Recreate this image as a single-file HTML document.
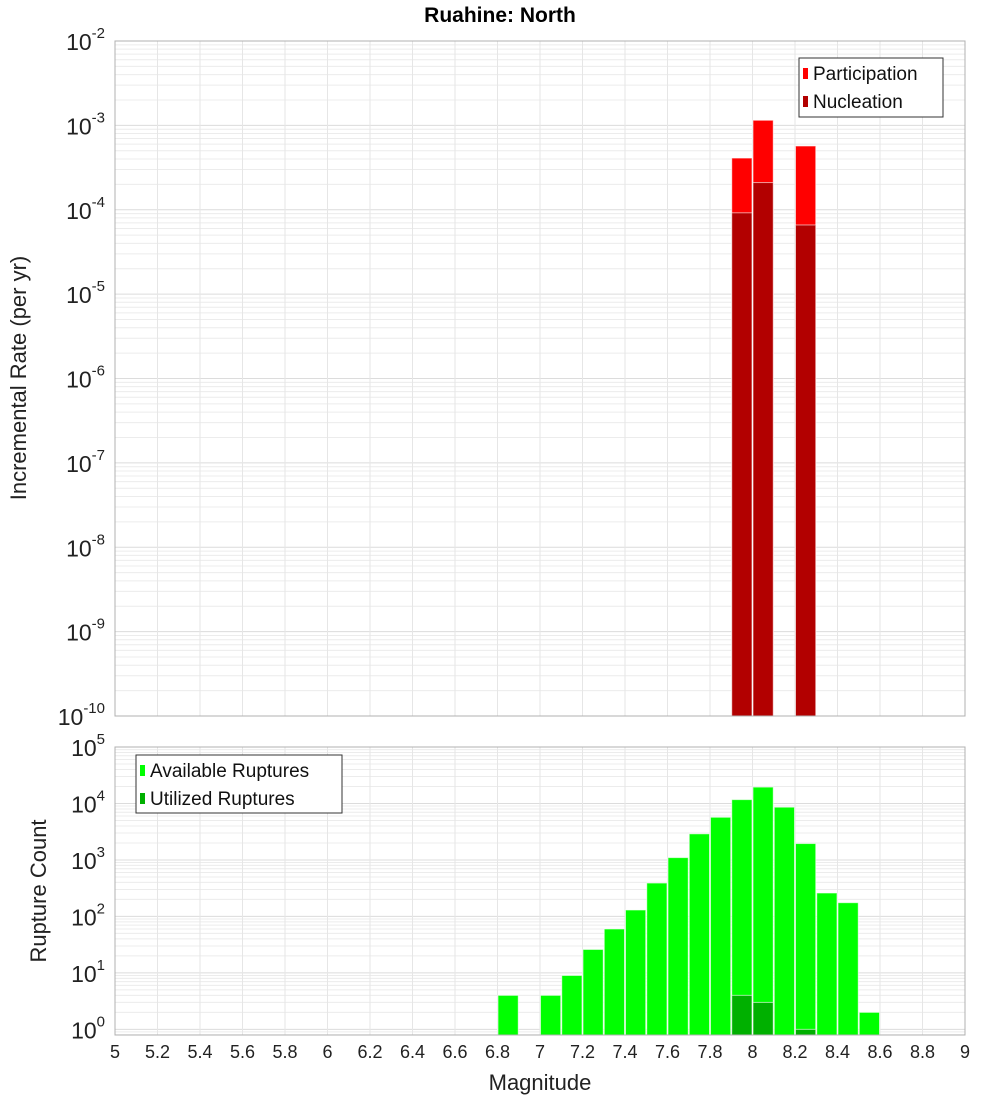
<!DOCTYPE html>
<html><head><meta charset="utf-8"><style>
body{margin:0;background:#fff;font-family:"Liberation Sans","DejaVu Sans",sans-serif}
svg{display:block}
</style></head><body>
<svg id="chart" width="1000" height="1100" xmlns="http://www.w3.org/2000/svg"></svg>
<script>
const magBins=[6.85,6.95,7.05,7.15,7.25,7.35,7.45,7.55,7.65,7.75,7.85,7.95,8.05,8.15,8.25,8.35,8.45,8.55];
const availableCounts=[4,0,4,9,26,60,130,390,1100,2900,5700,11700,19500,8600,1950,260,175,2];
const utilizedCounts=[0,0,0,0,0,0,0,0,0,0,0,4,3,0,1,0,0,0];
const rateBins=[7.95,8.05,8.25];
const participationRates=[4.1e-4,1.15e-3,5.7e-4];
const nucleationRates=[9.2e-5,2.1e-4,6.6e-5];
const xTicks=[5,5.2,5.4,5.6,5.8,6,6.2,6.4,6.6,6.8,7,7.2,7.4,7.6,7.8,8,8.2,8.4,8.6,8.8,9];
const topExps=[-2,-3,-4,-5,-6,-7,-8,-9,-10];
const botExps=[0,1,2,3,4,5];

const NS="http://www.w3.org/2000/svg";
const svg=document.getElementById('chart');
function mk(tag,attrs,parent){const e=document.createElementNS(NS,tag);for(const k in attrs)e.setAttribute(k,attrs[k]);(parent||svg).appendChild(e);return e;}
const L=115,R=965;
const x=m=>L+(m-5)/4*(R-L);
const T1=41,B1=716; const yTop=v=>T1+(-2-Math.log10(v))/8*(B1-T1);
const T2=747,B2=1035; const yBot=v=>T2+(5-Math.log10(v))/5.1*(B2-T2);

function grid(T,B,lo,hi,yf,name){
  const g=mk('g',{});
  for(let e=lo;e<hi;e++)for(let k=1;k<10;k++){const v=k*Math.pow(10,e);const yy=yf(v);if(yy<T-0.5||yy>B+0.5)continue;
    mk('line',{x1:L,x2:R,y1:yy,y2:yy,stroke:k==1?'#dcdcdc':'#ececec','stroke-width':1},g);}
  xTicks.forEach(t=>mk('line',{x1:x(t),x2:x(t),y1:T,y2:B,stroke:'#e6e6e6'},g));
}
grid(T1,B1,-10,-1,yTop,'top-grid');
grid(T2,B2,-1,6,yBot,'bottom-grid');

function bar(m,v,yf,B,fill,name){const w=(R-L)/40;const yy=yf(v);
  const r=mk('rect',{x:x(m)-w/2+0.5,y:yy,width:w-1,height:B-yy,fill:fill,stroke:'#fff','stroke-opacity':0.6,'stroke-width':1});
  }
rateBins.forEach((m,i)=>bar(m,participationRates[i],yTop,B1,'#ff0000','participation-bar'));
rateBins.forEach((m,i)=>bar(m,nucleationRates[i],yTop,B1,'#b20000','nucleation-bar'));
magBins.forEach((m,i)=>{if(availableCounts[i]>0)bar(m,availableCounts[i],yBot,B2,'#00ff00','available-bar');});
magBins.forEach((m,i)=>{if(utilizedCounts[i]>0)bar(m,utilizedCounts[i],yBot,B2,'#00b000','utilized-bar');});

mk('rect',{x:L,y:T1,width:R-L,height:B1-T1,fill:'none',stroke:'#b0b0b0'});
mk('rect',{x:L,y:T2,width:R-L,height:B2-T2,fill:'none',stroke:'#b0b0b0'});

function txt(s,a,name){const t=mk('text',a);t.textContent=s;return t;}
function pow(e,yy,name){const t=mk('text',{x:105,y:yy+9,'text-anchor':'end','font-size':23,fill:'#222'});
  
  const a=mk('tspan',{},t);a.textContent='10';const b=mk('tspan',{dy:-12,'font-size':15},t);b.textContent=String(e);}
topExps.forEach(e=>pow(e,yTop(Math.pow(10,e)),'y-tick-label'));
botExps.forEach(e=>pow(e,yBot(Math.pow(10,e)),'y-tick-label'));
xTicks.forEach(t=>txt(String(t),{x:x(t),y:1058,'text-anchor':'middle','font-size':18,fill:'#222'},'x-tick-label'));

txt('Ruahine: North',{x:500,y:22,'text-anchor':'middle','font-size':21,'font-weight':'bold'},'chart-title');
txt('Magnitude',{x:540,y:1090,'text-anchor':'middle','font-size':22,fill:'#222'},'x-axis-title');
txt('Incremental Rate (per yr)',{x:26,y:378,'text-anchor':'middle','font-size':22,fill:'#222',transform:'rotate(-90 26 378)'},'top-y-axis-title');
txt('Rupture Count',{x:46,y:891,'text-anchor':'middle','font-size':22,fill:'#222',transform:'rotate(-90 46 891)'},'bottom-y-axis-title');

function legend(x0,y0,w,h,items,name){const g=mk('g',{});
  mk('rect',{x:x0,y:y0,width:w,height:h,fill:'#fff',stroke:'#333'},g);
  items.forEach((it,i)=>{const yy=y0+15+i*28;mk('rect',{x:x0+4,y:yy-5,width:5,height:11,fill:it[1]},g);
    const t=mk('text',{x:x0+14,y:yy+7,'font-size':19,fill:'#111'},g);t.textContent=it[0];});}
legend(799,58,144,59,[['Participation','#ff0000'],['Nucleation','#b20000']],'top-legend');
legend(136,755,206,58,[['Available Ruptures','#00ff00'],['Utilized Ruptures','#00b000']],'bottom-legend');
</script>
</body></html>
